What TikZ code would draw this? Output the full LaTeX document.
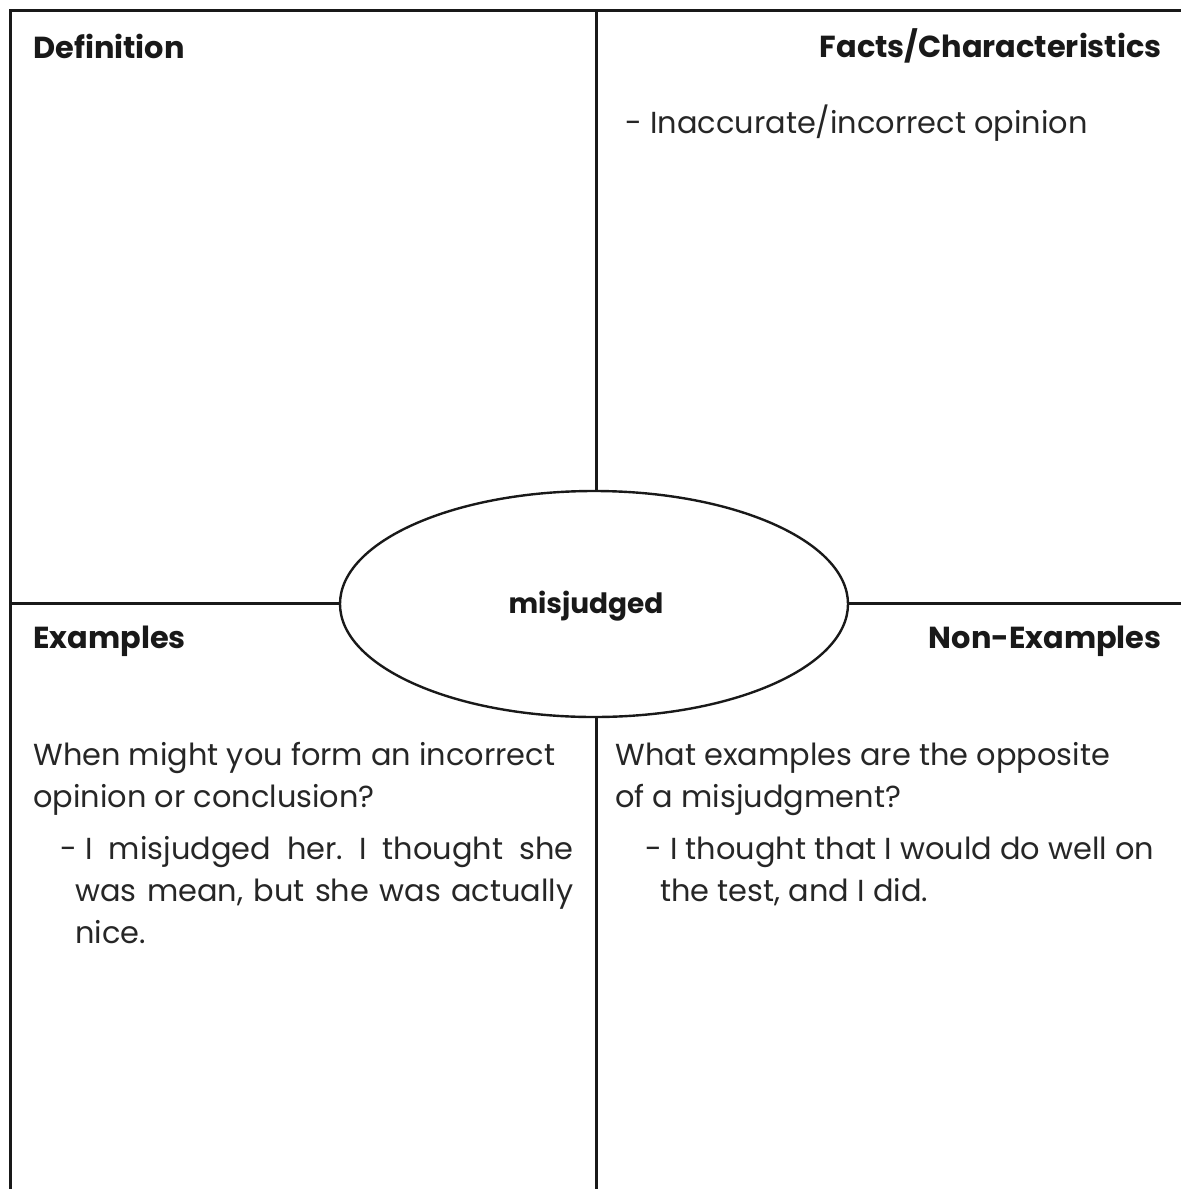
\documentclass[tikz,border=0pt]{standalone}
\usepackage{fontspec}
\setmainfont{Poppins}
\usetikzlibrary{shapes.geometric, positioning}

\tikzset{
  frame/.style={line width=1.5pt, black!90},
  head/.style={font=\fontsize{15.2}{17}\selectfont\bfseries, inner sep=0pt, text=black!90},
  body/.style={font=\fontsize{15.2}{17}\selectfont, inner sep=0pt, anchor=base west, text=black!85},
  word/.style={ellipse, draw, line width=1.2pt, black!90, minimum width=254pt, minimum height=113pt, inner sep=0pt}
}
\frenchspacing

\begin{document}
\begin{tikzpicture}[x=0.5pt, y=-0.5pt]
  \useasboundingbox (0,0) rectangle (1181,1189);

  % centre word
  \node[word] (w) at (594,604) {};
  \node[head, font=\fontsize{14}{16}\selectfont\bfseries] (wlabel) at (586,606) {misjudged};

  % frame
  \coordinate (tl) at (10,10);
  \coordinate (tr) at (1181,10);
  \coordinate (bl) at (10,1189);
  \coordinate (tm) at (596,10);
  \coordinate (bm) at (596,1189);
  \coordinate (ml) at (10,603);
  \coordinate (mr) at (1181,603);
  \draw[frame] (tr) -- (tl) -- (bl);
  \draw[frame] (tm) -- (tm |- w.north);
  \draw[frame] (bm |- w.south) -- (bm);
  \draw[frame] (ml) -- (ml -| w.west);
  \draw[frame] (mr -| w.east) -- (mr);

  % headings
  \node[head, anchor=west] (def) at (33,46) {Definition};
  \node[head, anchor=east] (facts) at (1162,46) {Facts/Characteristics};
  \node[head, anchor=west] (ex) at (33,641) {Examples};
  \node[head, anchor=east] (nonex) at (1162,641) {Non-Examples};

  % facts
  \node[body] (f1) at (625,133) {- Inaccurate/incorrect opinion};

  % examples
  \node[body] (e1) at (33,765) {When might you form an incorrect};
  \node[body] (e2) at (33,807) {opinion or conclusion?};
  \node[body] (e3d) at (60,859) {-};
  \node[body] (e3) at (85,859) {\makebox[244pt][s]{I misjudged her. I thought she}};
  \node[body] (e4) at (75,901) {\makebox[249pt][s]{was mean, but she was actually}};
  \node[body] (e5) at (75,943) {nice.};

  % non-examples
  \node[body] (n1) at (615,765) {What examples are the opposite};
  \node[body] (n2) at (615,807) {of a misjudgment?};
  \node[body] (n3) at (645,859) {- I thought that I would do well on};
  \node[body] (n4) at (660,901) {the test, and I did.};
\end{tikzpicture}
\end{document}
